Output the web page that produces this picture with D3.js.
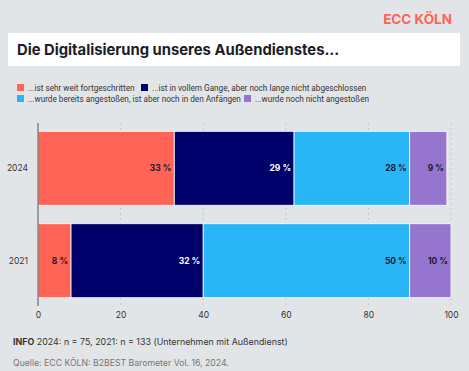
<!DOCTYPE html>
<html><head><meta charset="utf-8">
<script src="https://cdn.jsdelivr.net/npm/d3@7"></script>
<style>
html,body{margin:0;padding:0;background:#e2e5e8;}
svg{display:block;}
</style></head>
<body>
<svg id="chart" width="469" height="371"></svg>
<script>
const years = ["2024", "2021"];
const seriesNames = [
  "...ist sehr weit fortgeschritten",
  "...ist in vollem Gange, aber noch lange nicht abgeschlossen",
  "...wurde bereits angestoßen, ist aber noch in den Anfängen",
  "...wurde noch nicht angestoßen"
];
const values2024 = [33, 29, 28, 9];
const values2021 = [8, 32, 50, 10];
const xTicks = [0, 20, 40, 60, 80, 100];
const colors = ["#ff6457", "#00006b", "#29b6f6", "#9575cd"];
const labelColors = ["#1a1a2e", "#ffffff", "#1a1a2e", "#1a1a2e"];

const valuesByYear = {"2024": values2024, "2021": values2021};
const svg = d3.select("#chart");

// Header
svg.append("text").attr("x", 452).attr("y", 24).attr("text-anchor", "end")
  .attr("font-family", "Inter, sans-serif").attr("font-weight", 700).attr("font-size", 13.5)
  .attr("fill", "#ff6457").text("ECC KÖLN");
svg.append("rect").attr("x", 8).attr("y", 33).attr("width", 452).attr("height", 33).attr("fill", "#ffffff");
svg.append("text").attr("x", 17).attr("y", 55)
  .attr("font-family", "Inter, sans-serif").attr("font-weight", 700).attr("font-size", 14.8)
  .attr("fill", "#1c1c28").text("Die Digitalisierung unseres Außendienstes...");

// Legend
const legendPos = [[17, 88], [141, 88], [17, 99], [244, 99]];
seriesNames.forEach((n, i) => {
  const g = svg.append("g").attr("transform", `translate(${legendPos[i][0]},${legendPos[i][1]})`);
  g.append("rect").attr("x", 0).attr("y", -4).attr("width", 7).attr("height", 7).attr("fill", colors[i]);
  g.append("text").attr("x", 11).attr("y", 3).attr("font-family", "Roboto, sans-serif")
    .attr("font-size", 8.2).attr("fill", "#333").text(n);
});

// Scales
const x = d3.scaleLinear().domain([0, 100]).range([38, 451]);
const y = d3.scaleBand().domain(years).range([123, 306]).paddingInner(0.2).paddingOuter(0.09);

// Grid
svg.append("g").selectAll("line").data(xTicks.slice(1)).join("line")
  .attr("x1", d => x(d)).attr("x2", d => x(d)).attr("y1", 123).attr("y2", 306)
  .attr("stroke", "#c4c8cc").attr("stroke-width", 1).attr("stroke-dasharray", "2,3");

// Bars
years.forEach(yr => {
  const vals = valuesByYear[yr];
  let acc = 0;
  vals.forEach((v, i) => {
    const x0 = acc, x1 = acc + v;
    acc = x1;
    svg.append("rect").attr("x", x(x0)).attr("y", y(yr)).attr("width", x(x1) - x(x0))
      .attr("height", y.bandwidth()).attr("fill", colors[i]).attr("stroke", "#ffffff").attr("stroke-width", 0.8);
    svg.append("text").attr("x", x(x1) - 3).attr("y", y(yr) + y.bandwidth() / 2 + 3)
      .attr("text-anchor", "end").attr("font-family", "Inter, sans-serif").attr("font-weight", 700)
      .attr("font-size", 8.5).attr("fill", labelColors[i]).text(v + " %");
  });
});

// Y axis
svg.append("line").attr("x1", 38).attr("x2", 38).attr("y1", 123).attr("y2", 306)
  .attr("stroke", "#555").attr("stroke-width", 1);
svg.append("g").selectAll("text").data(years).join("text")
  .attr("x", 28).attr("y", d => y(d) + y.bandwidth() / 2 + 3).attr("text-anchor", "end")
  .attr("font-family", "Inter, sans-serif").attr("font-size", 8.5).attr("fill", "#333").text(d => d);

// X axis labels
const xAxis = d3.axisBottom(x).tickValues(xTicks).tickSize(0).tickPadding(0);
const gx = svg.append("g").attr("transform", "translate(0,312)").call(xAxis);
gx.select(".domain").remove();
gx.selectAll("text").attr("font-family", "Inter, sans-serif").attr("font-size", 8.5).attr("fill", "#333");

// Footer
const info = svg.append("text").attr("x", 13).attr("y", 345).attr("font-family", "Inter, sans-serif")
  .attr("font-size", 8.9).attr("fill", "#333");
info.append("tspan").attr("font-weight", 700).text("INFO");
info.append("tspan").text(" 2024: n = 75, 2021: n = 133 (Unternehmen mit Außendienst)");
svg.append("text").attr("x", 13).attr("y", 366).attr("font-family", "Inter, sans-serif")
  .attr("font-size", 8.7).attr("fill", "#777").text("Quelle: ECC KÖLN: B2BEST Barometer Vol. 16, 2024.");
</script>
</body></html>
